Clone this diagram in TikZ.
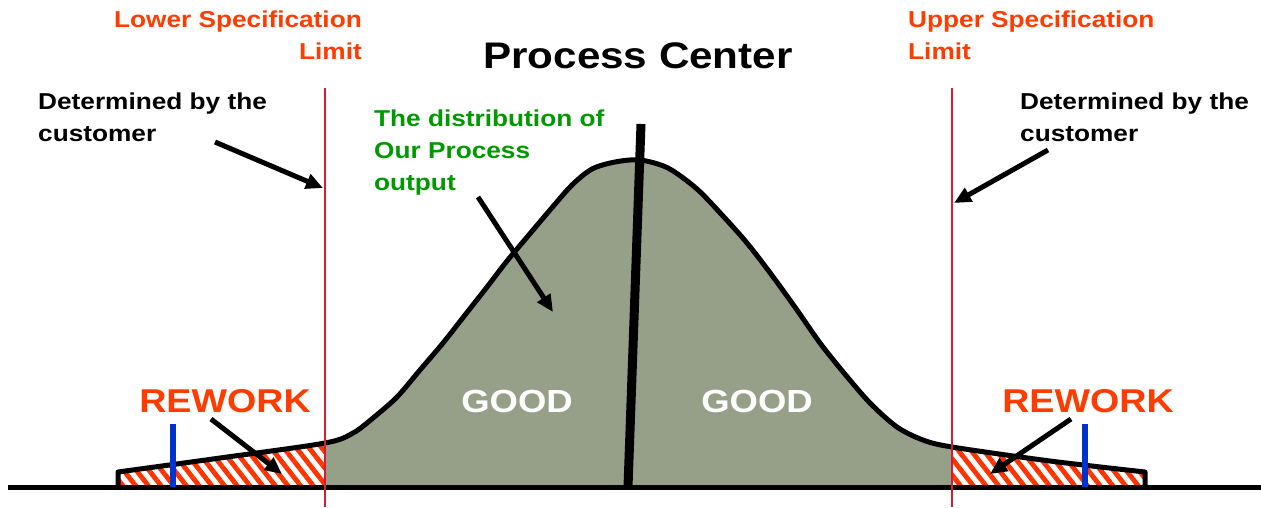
\documentclass[tikz,border=0pt]{standalone}
\usepackage{fontspec}
\setmainfont{Liberation Sans}[FakeStretch=1.14]
\usetikzlibrary{arrows.meta,patterns.meta}
\definecolor{fillgreen}{RGB}{150,160,136}
\definecolor{hatchred}{RGB}{255,51,0}
\definecolor{textred}{RGB}{255,60,0}
\definecolor{limitred}{RGB}{210,30,50}
\definecolor{textgreen}{RGB}{0,153,0}
\definecolor{markblue}{RGB}{0,51,204}
\tikzset{
  lbl/.style={font=\bfseries\fontsize{23}{32}\selectfont, inner sep=0pt},
  bigred/.style={font=\bfseries\fontsize{33}{40}\selectfont, inner sep=0pt, text=textred},
  goodtxt/.style={font=\bfseries\fontsize{32}{40}\selectfont, inner sep=0pt, text=white},
  arr/.style={line width=5pt, -{Triangle[length=17pt,width=15pt]}},
  limitline/.style={draw=limitred, line width=1.8pt},
  outline/.style={line width=5pt, line join=round},
  bluemark/.style={draw=markblue, line width=6pt},
  hatch/.style={pattern={Lines[angle=-52,distance=10pt,line width=4.8pt]}, pattern color=hatchred},
}
\begin{document}
\begin{tikzpicture}[x=1pt,y=-1pt]
\useasboundingbox[fill=white] (0,0) rectangle (1261,507);
% fills
\begin{scope}
  \clip (118,487) -- plot[smooth, tension=0.5] coordinates {(118,472) (220,458) (325,443) (353,433) (373,418) (397,397) (420,370) (443,343) (465,315) (487,287) (507,261) (528,236) (550,210) (572,185) (592,169) (615,162) (640,160) (668,168) (697,189) (723,216) (747,243) (771,274) (797,310) (820,343) (844,373) (870,403) (897,427) (923,440) (952,447) (1050,461) (1145,472)} -- (1145,487) -- cycle;
  \fill[fillgreen] (325,100) rectangle (952,490);
  \fill[white] (100,420) rectangle (325,490);
  \fill[white] (952,420) rectangle (1160,490);
  \fill[hatch] (100,420) rectangle (325,490);
  \fill[hatch] (952,420) rectangle (1160,490);
\end{scope}
% outline
\draw[outline] (118,487) -- plot[smooth, tension=0.5] coordinates {(118,472) (220,458) (325,443) (353,433) (373,418) (397,397) (420,370) (443,343) (465,315) (487,287) (507,261) (528,236) (550,210) (572,185) (592,169) (615,162) (640,160) (668,168) (697,189) (723,216) (747,243) (771,274) (797,310) (820,343) (844,373) (870,403) (897,427) (923,440) (952,447) (1050,461) (1145,472)} -- (1145,487);
% baseline
\coordinate (bl) at (8,487);
\coordinate (br) at (1261,487);
\draw[line width=5pt] (bl) -- (br);
% process center line
\coordinate (pctop) at (641,124);
\coordinate (pcbot) at (628,487);
\draw[line width=9pt] (pctop) -- (pcbot);
% blue marks
\coordinate (b1t) at (173,424); \coordinate (b1b) at (173,487);
\coordinate (b2t) at (1085,424); \coordinate (b2b) at (1085,487);
\draw[bluemark] (b1t) -- (b1b);
\draw[bluemark] (b2t) -- (b2b);
% limit lines
\coordinate (lslt) at (325,88); \coordinate (lslb) at (325,507);
\coordinate (uslt) at (952,88); \coordinate (uslb) at (952,507);
\draw[limitline] (lslt) -- (lslb);
\draw[limitline] (uslt) -- (uslb);
% texts
\node[lbl, text=textred, align=right, anchor=north east] (lsl) at (362,11) {Lower Specification\\Limit};
\node[lbl, text=textred, align=left, anchor=north west] (usl) at (908,11) {Upper Specification\\Limit};
\node[font=\bfseries\fontsize{37}{40}\selectfont, inner sep=0pt, anchor=north] (pc) at (638,42) {Process Center};
\node[lbl, align=left, anchor=north west] (detl) at (38,93) {Determined by the\\customer};
\node[lbl, align=left, anchor=north west] (detr) at (1020,93) {Determined by the\\customer};
\node[lbl, text=textgreen, align=left, anchor=north west] (dist) at (374,110) {The distribution of\\Our Process\\output};
\node[goodtxt] (good1) at (517,401) {GOOD};
\node[goodtxt] (good2) at (757,401) {GOOD};
\node[bigred] (rw1) at (225,401) {REWORK};
\node[bigred] (rw2) at (1088,401) {REWORK};
% arrows
\coordinate (a1s) at (215,142); \coordinate (a1e) at (323,188);
\coordinate (a2s) at (1048,150); \coordinate (a2e) at (954,203);
\coordinate (a3s) at (478,197); \coordinate (a3e) at (553,312);
\coordinate (a4s) at (211,419); \coordinate (a4e) at (282,474);
\coordinate (a5s) at (1071,419); \coordinate (a5e) at (990,474);
\draw[arr] (a1s) -- (a1e);
\draw[arr] (a2s) -- (a2e);
\draw[arr] (a3s) -- (a3e);
\draw[arr] (a4s) -- (a4e);
\draw[arr] (a5s) -- (a5e);
\end{tikzpicture}
\end{document}
